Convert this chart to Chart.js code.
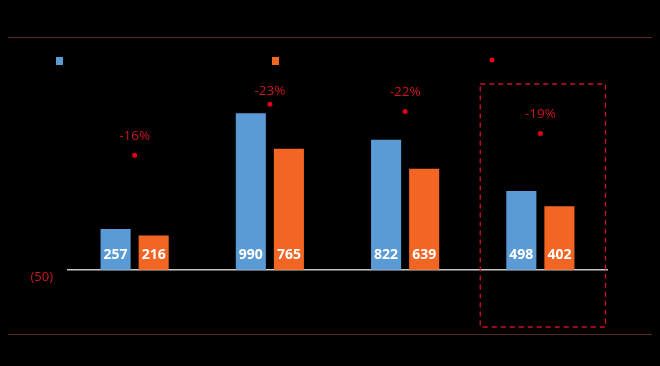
<!DOCTYPE html>
<html>
<head>
<meta charset="utf-8">
<script src="https://cdn.jsdelivr.net/npm/chart.js@4"></script>
<style>
  html, body { margin: 0; padding: 0; background: #000; }
  #wrap { width: 660px; height: 366px; }
</style>
</head>
<body>
<div id="wrap"><canvas id="chart"></canvas></div>
<script>
const categories = ["", "", "", ""];
const seriesA = [257, 990, 822, 498];
const seriesB = [216, 765, 639, 402];
const changePct = [-16, -23, -22, -19];
const yTicks = [-50];

const blue = "#5b9bd5";
const orange = "#f26522";
const red = "#e3001b";

// frame lines, zero line, legend markers, highlight box, labels
const decorations = {
    id: "decorations",
    beforeDatasetsDraw(chart) {
        const ctx = chart.ctx;
        const area = chart.chartArea;
        const y0 = chart.scales.y.getPixelForValue(0);
        ctx.save();
        ctx.strokeStyle = "#5a2c22";
        ctx.lineWidth = 1.2;
        ctx.beginPath();
        ctx.moveTo(8, 37.5); ctx.lineTo(652, 37.5);
        ctx.moveTo(8, 334.5); ctx.lineTo(652, 334.5);
        ctx.stroke();

        ctx.strokeStyle = "#c8c8c8";
        ctx.lineWidth = 1.5;
        ctx.beginPath();
        ctx.moveTo(area.left, y0); ctx.lineTo(area.right, y0);
        ctx.stroke();

        // legend markers
        ctx.fillStyle = blue;
        ctx.fillRect(56, 57, 7, 8);
        ctx.fillStyle = orange;
        ctx.fillRect(272, 57, 7, 8);
        ctx.fillStyle = red;
        ctx.beginPath();
        ctx.arc(492, 60, 2.5, 0, Math.PI * 2);
        ctx.fill();
        ctx.restore();
    },
    afterDatasetsDraw(chart) {
        const ctx = chart.ctx;
        const area = chart.chartArea;
        const x = chart.scales.x;
        const y0 = chart.scales.y.getPixelForValue(0);
        ctx.save();

        // bar values
        ctx.fillStyle = "#ffffff";
        ctx.font = "bold 14px 'Open Sans'";
        ctx.textAlign = "center";
        ctx.textBaseline = "middle";
        [0, 1].forEach(function (d) {
            chart.getDatasetMeta(d).data.forEach(function (bar, i) {
                ctx.fillText(chart.data.datasets[d].data[i], bar.x, y0 - 15);
            });
        });

        // percentage labels
        ctx.fillStyle = "#c8161e";
        ctx.font = "13.5px 'Open Sans'";
        chart.getDatasetMeta(2).data.forEach(function (pt, i) {
            ctx.fillText(changePct[i] + "%", pt.x, Math.max(pt.y - 19, area.top + 11));
        });

        // dashed highlight box round the last category
        const half = (x.getPixelForValue(1) - x.getPixelForValue(0)) / 2;
        const cx = x.getPixelForValue(3);
        ctx.strokeStyle = "#d0102a";
        ctx.lineWidth = 1.3;
        ctx.setLineDash([5, 4]);
        ctx.strokeRect(cx - half + 7.5, area.top + 4, 2 * half - 10, area.bottom - area.top - 2);
        ctx.restore();
    }
};

new Chart(document.getElementById("chart"), {
    data: {
        labels: categories,
        datasets: [
            {
                type: "bar",
                data: seriesA,
                backgroundColor: blue,
                categoryPercentage: 0.563,
                barPercentage: 0.79,
                yAxisID: "y",
                order: 2
            },
            {
                type: "bar",
                data: seriesB,
                backgroundColor: orange,
                categoryPercentage: 0.563,
                barPercentage: 0.79,
                yAxisID: "y",
                order: 2
            },
            {
                type: "line",
                data: changePct,
                showLine: false,
                pointRadius: 2.5,
                pointBackgroundColor: red,
                pointBorderWidth: 0,
                yAxisID: "y1",
                order: 1
            }
        ]
    },
    options: {
        responsive: true,
        maintainAspectRatio: false,
        animation: false,
        layout: { padding: { top: 80, bottom: 41, right: 52, left: 0 } },
        plugins: {
            legend: { display: false },
            tooltip: { enabled: false }
        },
        scales: {
            x: { display: false },
            y: {
                min: -350,
                max: 1200,
                afterBuildTicks: function (scale) {
                    scale.ticks = yTicks.map(v => ({ value: v }));
                },
                afterFit: function (scale) { scale.width = 67; },
                grid: { display: false, drawTicks: false },
                border: { display: false },
                ticks: {
                    color: "#c8161e",
                    padding: 14,
                    font: { family: "Open Sans", size: 13 },
                    callback: v => v < 0 ? "(" + Math.abs(v) + ")" : v
                }
            },
            y1: {
                display: false,
                reverse: true,
                min: -26.3,
                max: 7.2
            }
        }
    },
    plugins: [decorations]
});
</script>
</body>
</html>
